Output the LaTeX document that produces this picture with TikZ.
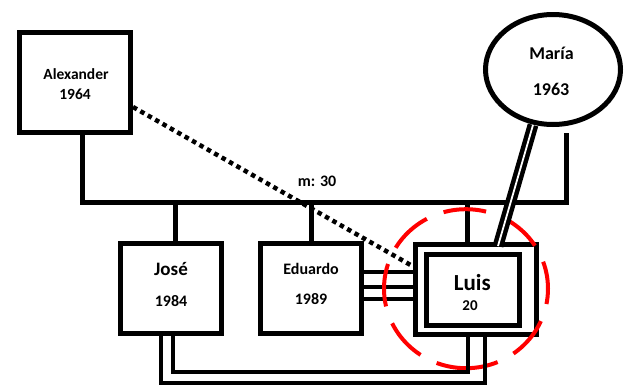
\documentclass[tikz,border=0pt]{standalone}
\usepackage{fontspec}
\setmainfont{Carlito}
\usetikzlibrary{shapes.geometric}
\begin{document}
\begin{tikzpicture}[x=1pt,y=-1pt,
  box/.style={draw, line width=5pt, fill=white, inner sep=0pt},
  link/.style={line width=5pt},
  thinlink/.style={line width=4pt},
  dotline/.style={line width=4.5pt, dash pattern=on 4.5pt off 4pt},
  dbl/.style={double, line width=4.5pt, double distance=1.8pt},
  redring/.style={draw=red, line width=4pt, dash pattern=on 43pt off 18pt, dash phase=13pt},
  txt/.style={font=\bfseries\fontsize{#1}{#1}\selectfont, inner sep=0pt}
]
\useasboundingbox (0,0) rectangle (625,386);

% persons
\node[box, minimum width=111, minimum height=100] (ale) at (75,82.5) {};
\node[txt=15.5] (aleN) at (76,74.5) {Alexander};
\node[txt=15.5] (aleY) at (75,94) {1964};

\node[box, ellipse, minimum width=135, minimum height=110] (maria) at (553,69.5) {};
\node[txt=18] (mariaN) at (551.5,53) {María};
\node[txt=18] (mariaY) at (551,89) {1963};

\node[box, minimum width=101, minimum height=90] (jose) at (171,288.5) {};
\node[txt=19] (joseN) at (171,269) {José};
\node[txt=16] (joseY) at (171,301) {1984};

\node[box, minimum width=101, minimum height=90] (edu) at (311,288.5) {};
\node[txt=16] (eduN) at (311,269) {Eduardo};
\node[txt=16] (eduY) at (311,299) {1989};

\node[box, minimum width=121, minimum height=90] (luis) at (475.7,289.2) {};
\node[box, minimum width=93, minimum height=71] (luisin) at (472.5,289.7) {};
\node[txt=23] (luisN) at (472.3,282.5) {Luis};
\node[txt=15] (luisY) at (470,305.3) {20};

\node[txt=16] (mlabel) at (317,181.5) {m: 30};

% marriage bar
\coordinate (barL) at (82,202);
\coordinate (barR) at (566,202);
\coordinate (mfree) at (566,133);
\draw[link] ([xshift=7]ale.south) -- (barL) -- (barR) -- (mfree);

% children lines
\draw[link] ([xshift=4]jose.north) -- ([xshift=4]jose.north |- barL);
\draw[link] (edu.north) -- (edu.north |- barL);
\draw[link] ([xshift=-8.5]luis.north) -- ([xshift=-8.5]luis.north |- barL);

% triple line Eduardo - Luis
\foreach \d in {16.5,1.5,-10.8}
  \draw[thinlink] ([yshift=\d]edu.east) -- ([yshift=\d]edu.east -| luis.west);

% dotted line Alexander - Luis
\draw[dotline] ([yshift=-24.5]ale.east) -- ([yshift=23]luis.west);

% red focus ring
\node[ellipse, minimum width=164, minimum height=159, inner sep=0pt] (focus) at (466,288.5) {};
\draw[redring] (focus.south) arc[start angle=90, end angle=450, x radius=82, y radius=79.5];

% bottom loops José - Luis
\coordinate (loopA) at (0,372);
\coordinate (loopB) at (0,383);
\draw[thinlink] ([xshift=2]jose.south) -- ([xshift=2]jose.south |- loopA) -| ([xshift=-8]luis.south);
\draw[thinlink] ([xshift=-10]jose.south) -- ([xshift=-10]jose.south |- loopB) -| ([xshift=9]luis.south);

% double line María - Luis
\coordinate (mtop) at (533,125);
\coordinate (lbot) at (498,246);
\draw[dbl] (mtop) -- (lbot);
\end{tikzpicture}
\end{document}
